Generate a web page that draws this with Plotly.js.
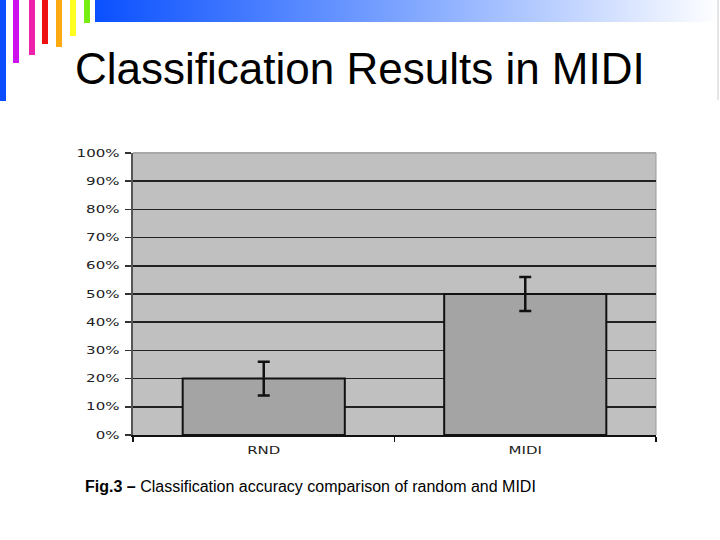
<!DOCTYPE html>
<html>
<head>
<meta charset="utf-8">
<script src="https://cdn.plot.ly/plotly-3.0.1.min.js"></script>
<style>
html,body{margin:0;padding:0;background:#fff;}
#chart{width:720px;height:540px;}
</style>
</head>
<body>
<div id="chart"></div>
<script>
// Data
var categories = ['RND', 'MIDI'];
var accuracy = [20, 50];
var errorPlusMinus = [6, 6];
var yTickValues = [0, 10, 20, 30, 40, 50, 60, 70, 80, 90, 100];
var yTickLabels = ['0%', '10%', '20%', '30%', '40%', '50%', '60%', '70%', '80%', '90%', '100%'];

// Layout geometry (pixels)
var W = 720, H = 540;
var L = 133, R = 656, T = 153, B = 435;
function px(x){ return (x - L) / (R - L); }
function py(y){ return (B - y) / (B - T); }

var shapes = [];
function rect(x0, y0, x1, y1, color){
  shapes.push({type:'rect', xref:'paper', yref:'paper', x0:px(x0), x1:px(x1), y0:py(y1), y1:py(y0),
    fillcolor:color, line:{width:0}, layer:'above'});
}
// decorative colour strips
rect(0, 0, 6, 101, '#0a4cff');
rect(13, 0, 19, 63, '#cc11ee');
rect(29, 0, 35, 55, '#ee22aa');
rect(42, 0, 48, 44, '#ee1111');
rect(56, 0, 62, 47, '#ffaa11');
rect(70, 0, 76, 36, '#ffff22');
rect(84, 0, 90, 23, '#77ee11');
// right edge thin line
shapes.push({type:'line', xref:'paper', yref:'paper', x0:px(718), x1:px(718), y0:py(0), y1:py(100),
  line:{color:'#cccccc', width:1}, layer:'above'});
// plot right border
shapes.push({type:'line', xref:'paper', yref:'paper', x0:1, x1:1, y0:0, y1:1,
  line:{color:'#9a9a9a', width:1}, layer:'below'});
// lighter top edge of plot
shapes.push({type:'line', xref:'paper', yref:'paper', x0:0, x1:1, y0:1, y1:1,
  line:{color:'#a8a8a8', width:2}, layer:'above'});

// gradient bar as svg image
var gradSvg = '<svg xmlns="http://www.w3.org/2000/svg" width="625" height="22" preserveAspectRatio="none">' +
  '<defs><linearGradient id="g" x1="0" y1="0" x2="1" y2="0">' +
  '<stop offset="0" stop-color="#0a50ff"/><stop offset="0.5" stop-color="#7fa6ff"/>' +
  '<stop offset="1" stop-color="#ffffff"/></linearGradient></defs>' +
  '<rect width="625" height="22" fill="url(#g)"/></svg>';
var gradSrc = 'data:image/svg+xml;base64,' + btoa(gradSvg);

var trace = {
  type: 'bar',
  x: categories,
  y: accuracy,
  marker: {color: '#a4a4a4', line: {color: '#111111', width: 2}},
  error_y: {type: 'data', array: errorPlusMinus, visible: true, color: '#111111', thickness: 2.5, width: 6},
  hoverinfo: 'none'
};

var tickFont = {size: 10, color: '#222', family: 'DejaVu Sans, sans-serif'};

var layout = {
  width: W, height: H,
  margin: {l: L, r: W - R, t: T, b: H - B, pad: 0},
  paper_bgcolor: '#ffffff',
  plot_bgcolor: '#c0c0c0',
  bargap: 0.38,
  showlegend: false,
  font: {family: 'Liberation Sans, Arial, sans-serif', color: '#222'},
  xaxis: {
    type: 'category',
    showgrid: false,
    showline: true, linecolor: '#111', linewidth: 1.5,
    ticks: 'outside', tickson: 'boundaries', ticklen: 5, tickcolor: '#111', tickwidth: 1.5,
    tickfont: tickFont, ticklabelstandoff: 5,
    fixedrange: true
  },
  yaxis: {
    range: [0, 100],
    tickvals: yTickValues, ticktext: yTickLabels,
    showgrid: true, gridcolor: '#222', gridwidth: 1.5,
    zeroline: false,
    showline: true, linecolor: '#555', linewidth: 2.5,
    ticks: 'outside', ticklen: 6, tickcolor: '#333', tickwidth: 1.5,
    tickfont: tickFont, ticklabelstandoff: 3,
    fixedrange: true
  },
  shapes: shapes,
  images: [{
    source: gradSrc, xref: 'paper', yref: 'paper',
    x: px(95), y: py(0), sizex: px(720) - px(95), sizey: py(0) - py(22),
    xanchor: 'left', yanchor: 'top', sizing: 'stretch', layer: 'above'
  }],
  annotations: [
    {xref:'paper', yref:'paper', x: px(73), y: py(95), xanchor:'left', yanchor:'bottom',
     text:'Classification Results in MIDI', showarrow:false,
     font:{family:'Liberation Sans, Arial, sans-serif', size:44, color:'#000'}},
    {xref:'paper', yref:'paper', x: px(83), y: py(497), xanchor:'left', yanchor:'bottom',
     text:'<b>Fig.3 –</b> Classification accuracy comparison of random and MIDI', showarrow:false,
     font:{family:'Liberation Sans, Arial, sans-serif', size:16, color:'#000'}}
  ]
};

Plotly.newPlot('chart', [trace], layout, {displayModeBar: false, staticPlot: true}).then(function(gd){
  // widen the tick label glyphs like the original stretched bitmap font
  var texts = gd.querySelectorAll('.xtick text, .ytick text');
  texts.forEach(function(t){
    var len = t.getComputedTextLength();
    t.setAttribute('textLength', (len * 1.5).toFixed(1));
    t.setAttribute('lengthAdjust', 'spacingAndGlyphs');
  });
});
</script>
</body>
</html>
